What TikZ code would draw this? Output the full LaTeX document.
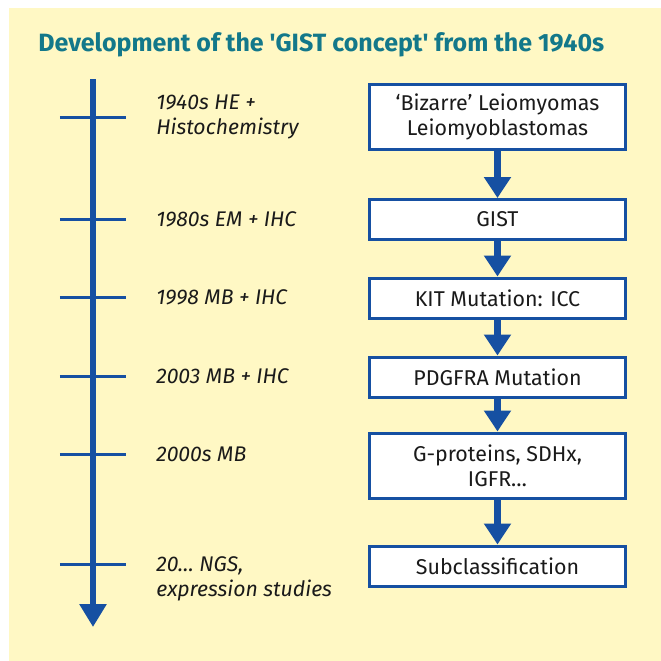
\documentclass[tikz,border=0pt]{standalone}
\usepackage{fontspec}
\setmainfont{Fira Sans}
\usetikzlibrary{arrows.meta}

\definecolor{panel}{HTML}{FFF8C4}
\definecolor{gistblue}{HTML}{1650A2}
\definecolor{gistteal}{HTML}{13788A}
\definecolor{ink}{HTML}{1A1A1A}

\tikzset{
  heading/.style = {anchor=west, inner sep=0pt, text=gistteal,
                    font=\fontsize{12.5}{15}\selectfont\bfseries},
  era/.style     = {anchor=west, inner sep=0pt, align=left, text=ink,
                    font=\fontsize{10.6}{12.5}\selectfont\itshape},
  stage/.style   = {draw=gistblue, line width=1.5pt, fill=white, text=ink,
                    align=center, minimum width=128pt, minimum height=20pt,
                    inner sep=2pt, font=\fontsize{10.7}{12.5}\selectfont},
  flow/.style    = {draw=gistblue, line width=3.2pt,
                    -{Triangle[width=13pt,length=10.5pt]}},
  timeline/.style= {draw=gistblue, line width=3pt,
                    -{Triangle[width=13pt,length=11.5pt]}},
  marker/.style  = {draw=gistblue, line width=1.5pt}
}

\begin{document}
\begin{tikzpicture}[x=0.5pt, y=-0.5pt]
  \useasboundingbox (0,0) rectangle (661,661);
  \fill[panel] (9,8) rectangle (661,661);          % background panel

  \node[heading] (title) at (38,45)
    {Development of the \textquotesingle GIST concept\textquotesingle\ from the 1940s};

  % time axis with its ticks
  \coordinate (start) at (93,79);
  \coordinate (end)   at (93,627);
  \draw[timeline] (start) -- (end);
  \foreach \y in {117, 219, 297, 376, 454, 564}
    \draw[marker] (60,\y) -- (126,\y);              % tick across the axis

  % era labels right of the ticks
  \node[era] (era1) at (156,116.5) {1940s HE +\\Histochemistry};
  \node[era] (era2) at (156,219.5) {1980s EM + IHC};
  \node[era] (era3) at (156,297)   {1998 MB + IHC};
  \node[era] (era4) at (156,376)   {2003 MB + IHC};
  \node[era] (era5) at (156,454)   {2000s MB};
  \node[era] (era6) at (156,579)   {20\textellipsis\ NGS,\\expression studies};

  % stages of the concept, top to bottom
  \node[stage, minimum height=32.5pt] (b1) at (497.5,116.5)
    {`Bizarre' Leiomyomas\\Leiomyoblastomas};
  \node[stage] (b2) at (497.5,219.5) {GIST};
  \node[stage] (b3) at (497.5,298)   {KIT Mutation: ICC};
  \node[stage] (b4) at (497.5,377)   {PDGFRA Mutation};
  \node[stage, minimum height=32.5pt] (b5) at (497.5,465.5)
    {G-proteins, SDHx,\\IGFR\textellipsis};
  \node[stage] (b6) at (497.5,566)   {Subclassification};

  \foreach \a/\b in {b1/b2, b2/b3, b3/b4, b4/b5, b5/b6}
    \draw[flow] (\a) -- (\b);
\end{tikzpicture}
\end{document}
